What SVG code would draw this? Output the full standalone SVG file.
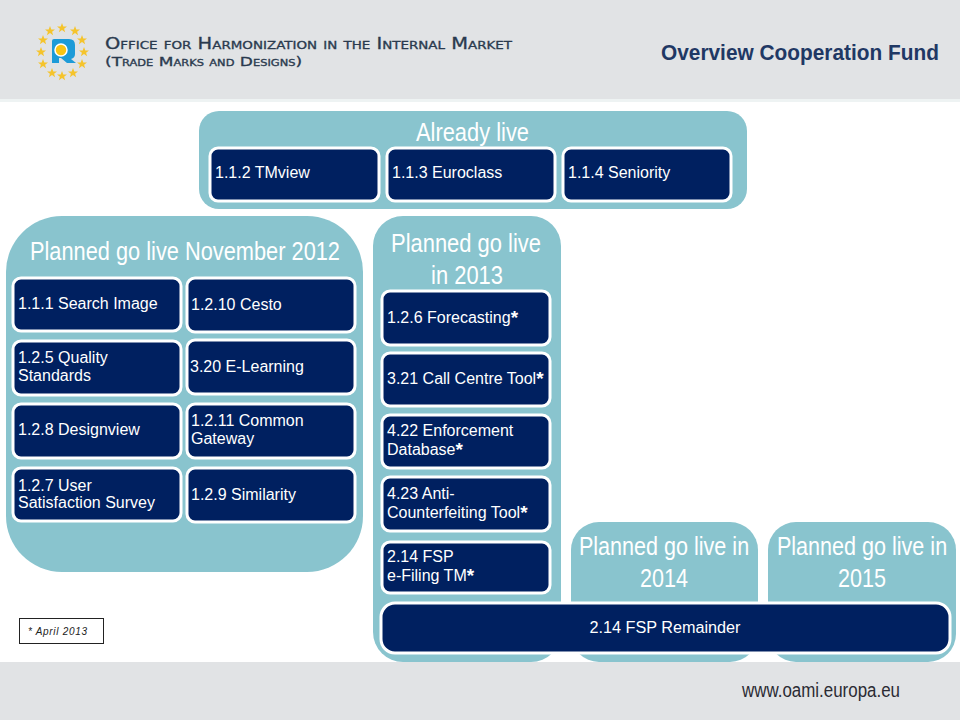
<svg xmlns="http://www.w3.org/2000/svg" width="960" height="720" viewBox="0 0 960 720">
<defs>
<style>
text{font-family:"Liberation Sans",Arial,sans-serif}
.panel{fill:#89c4ce}
.box{fill:#002060;stroke:#fff;stroke-width:3}
.t{fill:#fff;font-size:16px}
.a{font-size:19px;font-weight:bold}
.h{fill:#fff;font-size:26px}
.h2{fill:#fff;font-size:26px;text-anchor:middle}
.sc{fill:#2a3a4e;font-family:"DejaVu Sans",sans-serif;font-variant:small-caps;stroke:#2a3a4e;stroke-width:.3}
.star{fill:#f5c42c}
</style>
<polygon id="s" points="0,-5 1.3,-1.6 5,-1.6 2.1,0.7 3.1,4.2 0,2.1 -3.1,4.2 -2.1,0.7 -5,-1.6 -1.3,-1.6"/>
</defs>
<rect width="960" height="720" fill="#fff"/>
<rect id="header" width="960" height="99" fill="#e1e3e5"/>
<rect y="99" width="960" height="3" fill="#eef3f3"/>
<rect id="footer" y="662" width="960" height="58" fill="#e1e3e5"/>
<g id="logo">
<g class="star">
<use href="#s" x="62" y="28"/><use href="#s" x="75" y="31"/><use href="#s" x="82" y="40"/><use href="#s" x="84" y="52"/><use href="#s" x="82" y="64"/><use href="#s" x="73" y="73"/><use href="#s" x="62" y="76"/><use href="#s" x="52" y="73"/><use href="#s" x="43" y="64"/><use href="#s" x="41" y="52"/><use href="#s" x="43" y="40"/><use href="#s" x="50" y="31"/>
</g>
<path d="M54 39H69Q75 39 75 45V54Q75 58 71 59L76 63H67L61 58H59V63H52V41Q52 39 54 39Z" fill="#1d9bd8"/>
<circle cx="61" cy="50" r="6" fill="#f9c414" stroke="#fff" stroke-width="1.5"/>
</g>
<text class="sc" transform="translate(105 49) scale(1.297 1)" font-size="15">Office for Harmonization in the Internal Market</text>
<text class="sc" transform="translate(105 66) scale(1.365 1)" font-size="12.500">(Trade Marks and Designs)</text>
<text x="661" y="60" font-size="22" font-weight="bold" fill="#1f3864" textLength="278" lengthAdjust="spacingAndGlyphs">Overview Cooperation Fund</text>
<text x="742" y="697" font-size="20" fill="#2b2b33" textLength="158" lengthAdjust="spacingAndGlyphs">www.oami.europa.eu</text>

<g id="already-live">
<rect class="panel" x="199" y="111" width="548" height="98" rx="20"/>
<text class="h" x="416" y="141" textLength="113" lengthAdjust="spacingAndGlyphs">Already live</text>
</g>
<g id="n-112"><rect class="box" x="210" y="148" width="169" height="53" rx="8"/><text class="t" x="215" y="178">1.1.2 TMview</text></g>
<g id="n-113"><rect class="box" x="387" y="148" width="168" height="53" rx="8"/><text class="t" x="392" y="178">1.1.3 Euroclass</text></g>
<g id="n-114"><rect class="box" x="563" y="148" width="168" height="53" rx="8"/><text class="t" x="568" y="178">1.1.4 Seniority</text></g>

<g id="nov-2012">
<rect class="panel" x="6" y="216" width="357" height="356" rx="56"/>
<text class="h" x="30" y="260" textLength="310" lengthAdjust="spacingAndGlyphs">Planned go live November 2012</text>
</g>
<g id="n-111"><rect class="box" x="13" y="278" width="168" height="53" rx="8"/><text class="t" x="18" y="309">1.1.1 Search Image</text></g>
<g id="n-1210"><rect class="box" x="187" y="278" width="168" height="54" rx="8"/><text class="t" x="191" y="310">1.2.10 Cesto</text></g>
<g id="n-125"><rect class="box" x="13" y="341" width="168" height="54" rx="8"/><text class="t" x="18" y="363">1.2.5 Quality</text><text class="t" x="18" y="381">Standards</text></g>
<g id="n-320"><rect class="box" x="187" y="340" width="168" height="54" rx="8"/><text class="t" x="190" y="372">3.20 E-Learning</text></g>
<g id="n-128"><rect class="box" x="13" y="404" width="168" height="54" rx="8"/><text class="t" x="18" y="435">1.2.8 Designview</text></g>
<g id="n-1211"><rect class="box" x="187" y="404" width="168" height="54" rx="8"/><text class="t" x="191" y="426">1.2.11 Common</text><text class="t" x="191" y="444">Gateway</text></g>
<g id="n-127"><rect class="box" x="13" y="468" width="168" height="53" rx="8"/><text class="t" x="18" y="491">1.2.7 User</text><text class="t" x="18" y="508">Satisfaction Survey</text></g>
<g id="n-129"><rect class="box" x="187" y="468" width="168" height="54" rx="8"/><text class="t" x="191" y="500">1.2.9 Similarity</text></g>

<g id="y-2013">
<rect class="panel" x="373" y="216" width="188" height="446" rx="30"/>
<text class="h2" x="466" y="252" textLength="150" lengthAdjust="spacingAndGlyphs">Planned go live</text>
<text class="h2" x="467" y="284" textLength="72" lengthAdjust="spacingAndGlyphs">in 2013</text>
</g>
<g id="y-2014">
<rect class="panel" x="571" y="522" width="187" height="140" rx="28"/>
<text class="h2" transform="translate(664 555) scale(.83 1)">Planned go live in</text>
<text class="h2" transform="translate(664 587) scale(.83 1)">2014</text>
</g>
<g id="y-2015">
<rect class="panel" x="768" y="522" width="188" height="140" rx="28"/>
<text class="h2" transform="translate(862 555) scale(.83 1)">Planned go live in</text>
<text class="h2" transform="translate(862 587) scale(.83 1)">2015</text>
</g>
<g id="n-126"><rect class="box" x="382" y="291" width="168" height="54" rx="8"/><text class="t" x="387" y="323">1.2.6 Forecasting<tspan class="a" dy="1">*</tspan></text></g>
<g id="n-321"><rect class="box" x="382" y="353" width="168" height="53" rx="8"/><text class="t" x="387" y="384">3.21 Call Centre Tool<tspan class="a" dy="1">*</tspan></text></g>
<g id="n-422"><rect class="box" x="382" y="415" width="168" height="53" rx="8"/><text class="t" x="387" y="436">4.22 Enforcement</text><text class="t" x="387" y="455">Database<tspan class="a" dy="1">*</tspan></text></g>
<g id="n-423"><rect class="box" x="382" y="477" width="168" height="54" rx="8"/><text class="t" x="387" y="499">4.23 Anti-</text><text class="t" x="387" y="518">Counterfeiting Tool<tspan class="a" dy="1">*</tspan></text></g>
<g id="n-214"><rect class="box" x="382" y="542" width="168" height="51" rx="8"/><text class="t" x="387" y="562">2.14 FSP</text><text class="t" x="387" y="581">e-Filing TM<tspan class="a" dy="1">*</tspan></text></g>
<g id="n-214r"><rect class="box" x="381" y="603" width="569" height="50" rx="14"/><text class="t" x="665" y="633" text-anchor="middle" textLength="151" lengthAdjust="spacingAndGlyphs">2.14 FSP Remainder</text></g>
<g id="note"><rect x="19.500" y="618.500" width="84" height="25" fill="#fff" stroke="#222" stroke-width="1"/><text x="28" y="635" font-size="10" font-style="italic" fill="#222" textLength="59">* April 2013</text></g>
<g id="connectors"/>
</svg>
